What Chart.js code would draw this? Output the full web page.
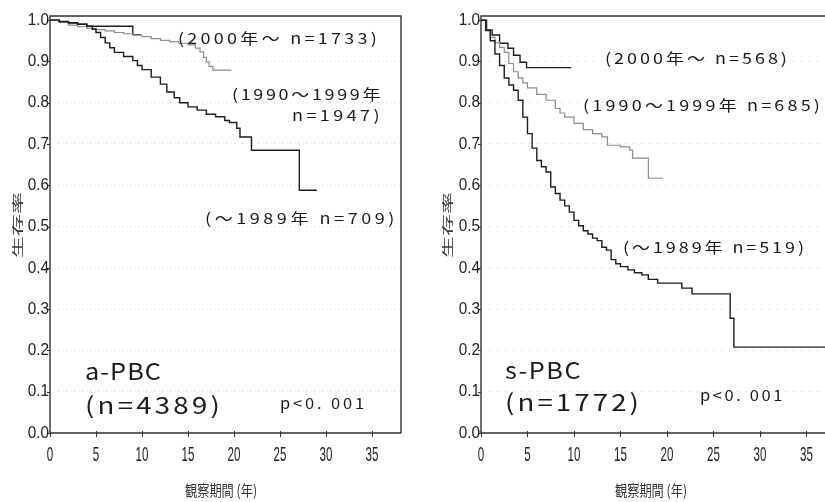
<!DOCTYPE html>
<html>
<head>
<meta charset="utf-8">
<script src="https://cdn.jsdelivr.net/npm/chart.js@4.4.1/dist/chart.umd.min.js"></script>
<style>
	body { margin: 0; background: #fff; }
	#wrap { position: relative; width: 825px; height: 502px; overflow: hidden; }
	canvas { position: absolute; top: 0; }
	#cA { left: 0; }
	#cS { left: 420px; }
</style>
</head>
<body>
<div id="wrap">
	<canvas id="cA" width="410" height="502"></canvas>
	<canvas id="cS" width="405" height="502"></canvas>
</div>
<script>
// 観察期間 (年) と生存率
const xTicks = [0, 5, 10, 15, 20, 25, 30, 35];
const xTickLabels = ["0", "5", "10", "15", "20", "25", "30", "35"];
const yTicks = [0, 0.1, 0.2, 0.3, 0.4, 0.5, 0.6, 0.7, 0.8, 0.9, 1.0];
const yTickLabels = ["0.0", "0.1", "0.2", "0.3", "0.4", "0.5", "0.6", "0.7", "0.8", "0.9", "1.0"];

// a-PBC
const aNewYears = [0, 1, 2, 3, 4, 9.0, 9.9];
const aNewSurv = [1, 0.997, 0.994, 0.99, 0.985, 0.965, 0.965];
const aMidYears = [0, 1, 2, 3, 4, 5, 6, 7, 8, 9, 10, 11, 12, 13, 14, 15, 15.8, 16.3, 16.7, 17.0, 17.3, 17.7, 19.7];
const aMidSurv = [1, 0.995, 0.988, 0.984, 0.98, 0.977, 0.974, 0.97, 0.967, 0.964, 0.96, 0.955, 0.951, 0.948, 0.944, 0.94, 0.932, 0.923, 0.91, 0.899, 0.888, 0.879, 0.879];
const aOldYears = [0, 1, 2, 3, 4, 4.6, 5, 5.5, 6, 6.5, 7, 8, 9, 9.5, 10, 11, 12, 12.7, 13.5, 14.1, 15, 16, 17, 18, 19, 19.5, 20.3, 20.65, 21.9, 27.1, 29.0];
const aOldSurv = [1, 0.996, 0.993, 0.99, 0.985, 0.978, 0.97, 0.958, 0.945, 0.933, 0.922, 0.912, 0.902, 0.89, 0.88, 0.862, 0.845, 0.826, 0.812, 0.8, 0.79, 0.782, 0.772, 0.766, 0.757, 0.752, 0.738, 0.717, 0.685, 0.588, 0.588];

// s-PBC
const sNewYears = [0, 0.6, 1.2, 2.0, 2.9, 3.5, 4.2, 4.9, 9.7];
const sNewSurv = [1, 0.976, 0.964, 0.944, 0.932, 0.915, 0.898, 0.885, 0.885];
const sMidYears = [0, 0.5, 1, 1.5, 2, 2.5, 3, 3.5, 4, 4.5, 5, 6, 7, 8, 8.5, 9, 10, 11, 12, 13, 13.6, 15, 16.0, 16.3, 18.0, 19.6];
const sMidSurv = [1, 0.975, 0.958, 0.945, 0.934, 0.922, 0.895, 0.875, 0.86, 0.848, 0.836, 0.82, 0.806, 0.786, 0.775, 0.765, 0.75, 0.735, 0.725, 0.717, 0.697, 0.693, 0.685, 0.666, 0.617, 0.617];
const sOldYears = [0, 0.5, 1, 1.5, 2, 2.5, 3, 3.5, 4, 4.5, 5, 5.5, 6, 6.5, 7, 7.5, 8, 8.5, 9, 9.5, 10, 10.5, 11, 11.5, 12, 12.5, 13, 13.5, 14, 14.5, 15, 15.8, 16.5, 17.3, 18, 19, 21.6, 22.7, 26.8, 27.2, 37];
const sOldSurv = [1, 0.975, 0.95, 0.918, 0.89, 0.86, 0.843, 0.83, 0.806, 0.765, 0.725, 0.69, 0.66, 0.645, 0.632, 0.596, 0.58, 0.564, 0.55, 0.535, 0.515, 0.502, 0.49, 0.482, 0.472, 0.466, 0.45, 0.443, 0.42, 0.41, 0.403, 0.395, 0.388, 0.383, 0.372, 0.363, 0.351, 0.337, 0.278, 0.208, 0.208];

const DARK = "#1e1e1e";
const GRAY = "#8c8c8c";

// 生存曲線は階段状 (水平 → 垂直)
function series(years, surv, color, width) {
	return {
		data: years.map((x, i) => ({ x: x, y: surv[i] })),
		borderColor: color,
		borderWidth: width,
		stepped: "before",
		pointRadius: 0,
		fill: false,
	};
}

// 横に少し伸ばし、残りは字間で幅を合わせる
function spacedText(ctx, text, x, y, font, sx, width) {
	ctx.save();
	ctx.font = font;
	ctx.textAlign = "left";
	ctx.textBaseline = "middle";
	const natural = ctx.measureText(text).width;
	const n = [...text].length;
	ctx.translate(x, y);
	if ("letterSpacing" in ctx) {
		ctx.scale(sx, 1);
		ctx.letterSpacing = ((width / sx - natural) / n).toFixed(2) + "px";
	} else {
		ctx.scale(width / natural, 1);
	}
	ctx.fillText(text, 0, 0);
	ctx.restore();
}

const decor = {
	id: "decor",
	afterDraw(chart, args, opts) {
		const { ctx, chartArea: a } = chart;
		const xs = chart.scales.x, ys = chart.scales.y;
		ctx.save();
		ctx.strokeStyle = "#333";
		ctx.lineWidth = 1.4;
		ctx.beginPath();
		ctx.moveTo(a.left, a.bottom);
		ctx.lineTo(a.left, a.top);
		ctx.lineTo(a.right, a.top);
		if (opts.rightBorder) ctx.lineTo(a.right, a.bottom);
		ctx.moveTo(a.left, a.bottom);
		ctx.lineTo(a.right, a.bottom);
		ctx.stroke();

		// 目盛り
		ctx.lineWidth = 1;
		ctx.beginPath();
		xTicks.forEach(v => {
			const px = Math.round(xs.getPixelForValue(v)) + 0.5;
			ctx.moveTo(px, a.bottom - 2);
			ctx.lineTo(px, a.bottom + 4);
		});
		yTicks.forEach(v => {
			const py = Math.round(ys.getPixelForValue(v)) + 0.5;
			ctx.moveTo(a.left - 3, py);
			ctx.lineTo(a.left, py);
		});
		ctx.stroke();

		ctx.fillStyle = "#222";
		ctx.textBaseline = "middle";
		ctx.font = "17px 'Liberation Sans', sans-serif";
		yTicks.forEach((v, i) => {
			const py = ys.getPixelForValue(v);
			ctx.save();
			ctx.translate(a.left - 1, py);
			ctx.scale(0.9, 1);
			ctx.textAlign = "right";
			ctx.fillText(yTickLabels[i], 0, 0);
			ctx.restore();
		});
		ctx.font = "21px 'Liberation Sans', sans-serif";
		xTicks.forEach((v, i) => {
			const px = xs.getPixelForValue(v);
			ctx.save();
			ctx.translate(px, a.bottom + 22);
			ctx.scale(0.55, 1);
			ctx.textAlign = "center";
			ctx.fillText(xTickLabels[i], 0, 0);
			ctx.restore();
		});

		// 軸タイトル
		ctx.fillStyle = "#333";
		ctx.font = "15px 'Noto Sans CJK JP'";
		const tw = ctx.measureText("観察期間 (年)").width;
		ctx.save();
		ctx.translate(opts.xTitle[0], opts.xTitle[1]);
		ctx.scale(72 / tw, 1);
		ctx.textAlign = "center";
		ctx.fillText("観察期間 (年)", 0, 0);
		ctx.restore();

		ctx.save();
		ctx.translate(opts.yTitle[0], opts.yTitle[1]);
		ctx.rotate(-Math.PI / 2);
		ctx.scale(1, 0.5);
		ctx.font = "22px 'Noto Sans CJK JP'";
		ctx.textAlign = "center";
		ctx.fillText("生存率", 0, 0);
		ctx.restore();

		// 注記
		ctx.fillStyle = "#1a1a1a";
		opts.notes.forEach(n => spacedText(ctx, n.text, n.x, n.y, n.font, n.sx, n.w));
		ctx.restore();
	},
};

function makeChart(id, datasets, xMax, rightPad, decorOpts) {
	return new Chart(document.getElementById(id), {
		type: "line",
		data: { datasets: datasets },
		options: {
			responsive: false,
			animation: false,
			layout: { padding: { top: 16, right: rightPad, left: 0, bottom: 0 } },
			scales: {
				x: {
					type: "linear",
					min: 0,
					max: xMax,
					afterFit: s => { s.height = 69; },
					afterBuildTicks: s => { s.ticks = xTicks.map(v => ({ value: v })); },
					ticks: { display: false },
					grid: { display: false },
					border: { display: false },
				},
				y: {
					min: 0,
					max: 1.01,
					afterFit: s => { s.width = decorOpts.yWidth; },
					afterBuildTicks: s => { s.ticks = yTicks.map(v => ({ value: v })); },
					ticks: { display: false },
					grid: { color: "rgba(0,0,0,0.22)", drawTicks: false, lineWidth: 1 },
					border: { display: false, dash: [1, 7] },
				},
			},
			plugins: {
				legend: { display: false },
				tooltip: { enabled: false },
				decor: decorOpts,
			},
		},
		plugins: [decor],
	});
}

const noteFont = "15px 'Noto Sans CJK JP'";
const bigFont = "23px 'Noto Sans CJK JP'";

makeChart("cA", [
	series(aOldYears, aOldSurv, DARK, 1.4),
	series(aMidYears, aMidSurv, GRAY, 1.2),
	series(aNewYears, aNewSurv, DARK, 1.4),
], 38.15, 9, {
	yWidth: 50,
	rightBorder: true,
	xTitle: [221, 490],
	yTitle: [18, 225],
	notes: [
		{ text: "(2000年～ n=1733)", x: 178, y: 38, font: noteFont, sx: 1.2, w: 202 },
		{ text: "(1990～1999年", x: 232, y: 94, font: noteFont, sx: 1.2, w: 151 },
		{ text: "n=1947)", x: 292, y: 115, font: noteFont, sx: 1.2, w: 91 },
		{ text: "(～1989年 n=709)", x: 205, y: 218, font: noteFont, sx: 1.2, w: 193 },
		{ text: "a-PBC", x: 85, y: 371, font: bigFont, sx: 1.1, w: 77 },
		{ text: "(n=4389)", x: 85, y: 405, font: bigFont, sx: 1.2, w: 138 },
		{ text: "p<0. 001", x: 280, y: 403, font: noteFont, sx: 1.1, w: 87 },
	],
});

makeChart("cS", [
	series(sOldYears, sOldSurv, DARK, 1.4),
	series(sMidYears, sMidSurv, GRAY, 1.2),
	series(sNewYears, sNewSurv, DARK, 1.4),
], 37, 0, {
	yWidth: 61,
	rightBorder: false,
	xTitle: [231, 490],
	yTitle: [28, 225],
	notes: [
		{ text: "(2000年～ n=568)", x: 185, y: 58, font: noteFont, sx: 1.2, w: 185 },
		{ text: "(1990～1999年 n=685)", x: 163, y: 105, font: noteFont, sx: 1.2, w: 240 },
		{ text: "(～1989年 n=519)", x: 203, y: 247, font: noteFont, sx: 1.2, w: 184 },
		{ text: "s-PBC", x: 85, y: 370, font: bigFont, sx: 1.1, w: 77 },
		{ text: "(n=1772)", x: 85, y: 402, font: bigFont, sx: 1.2, w: 137 },
		{ text: "p<0. 001", x: 280, y: 395, font: noteFont, sx: 1.1, w: 85 },
	],
});
</script>
</body>
</html>
